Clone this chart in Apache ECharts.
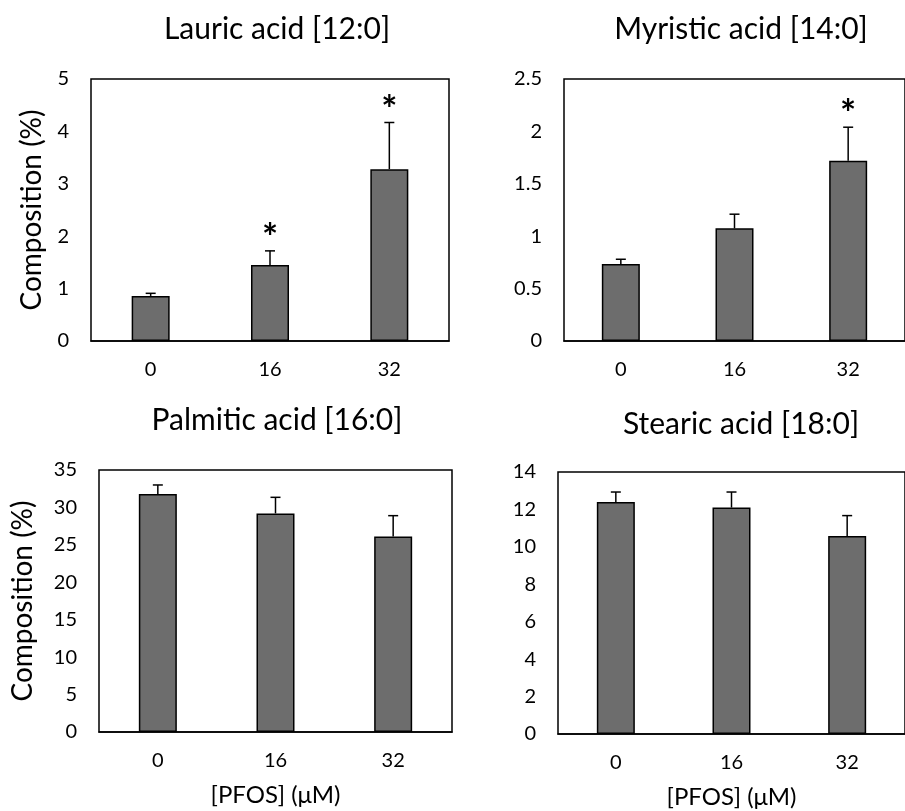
<!DOCTYPE html>
<html><head><meta charset="utf-8">
<script src="https://cdn.jsdelivr.net/npm/echarts@6/dist/echarts.min.js"></script>
<style>html,body{margin:0;padding:0;background:#fff}#c{width:905px;height:811px}</style>
</head><body><div id="c"></div>
<script>
const categories = ['0', '16', '32'];
const titles = ['Lauric acid [12:0]', 'Myristic acid [14:0]', 'Palmitic acid [16:0]', 'Stearic acid [18:0]'];
const lauricMean = [0.86, 1.45, 3.28];
const lauricErr = [0.05, 0.27, 0.89];
const lauricSig = [false, true, true];
const myristicMean = [0.735, 1.075, 1.72];
const myristicErr = [0.045, 0.135, 0.32];
const myristicSig = [false, false, true];
const palmiticMean = [31.8, 29.2, 26.1];
const palmiticErr = [1.2, 2.15, 2.8];
const palmiticSig = [false, false, false];
const stearicMean = [12.4, 12.1, 10.58];
const stearicErr = [0.53, 0.83, 1.09];
const stearicSig = [false, false, false];
const yMax = [5, 2.5, 35, 14];
const yInterval = [1, 0.5, 5, 2];
const yName = 'Composition (%)';
const xName = '[PFOS] (μM)';

const FONT = 'Lato';
const panels = [
  {mean: lauricMean, err: lauricErr, sig: lauricSig},
  {mean: myristicMean, err: myristicErr, sig: myristicSig},
  {mean: palmiticMean, err: palmiticErr, sig: palmiticSig},
  {mean: stearicMean, err: stearicErr, sig: stearicSig}
];
const gridPos = [
  {left: 91, top: 79, width: 358, height: 262},
  {left: 564, top: 79, width: 351, height: 262},
  {left: 99, top: 470, width: 353, height: 262},
  {left: 558, top: 472, width: 355, height: 262}
];
const titlePos = [
  {x: 272, y: 24}, {x: 736, y: 24}, {x: 272, y: 415}, {x: 736, y: 419}
];

const option = {
  animation: false,
  backgroundColor: '#fff',
  title: titles.map((t, i) => ({
    text: t, left: titlePos[i].x, top: titlePos[i].y,
    textAlign: 'center', textVerticalAlign: 'middle',
    textStyle: {fontFamily: FONT, fontSize: 30, fontWeight: 'normal', color: '#000'}
  })),
  grid: gridPos.map(g => Object.assign({show: true, borderColor: '#000', borderWidth: 1.5, backgroundColor: 'transparent'}, g)),
  xAxis: gridPos.map((g, i) => ({
    type: 'category', gridIndex: i, data: categories,
    axisLine: {lineStyle: {color: '#000', width: 1.5}},
    axisTick: {show: false},
    axisLabel: {margin: 19, fontFamily: FONT, fontSize: 20, color: '#000'},
    name: i >= 2 ? xName : '', nameLocation: 'middle', nameGap: 51,
    nameTextStyle: {fontFamily: FONT, fontSize: 24, color: '#000'}
  })),
  yAxis: gridPos.map((g, i) => ({
    type: 'value', gridIndex: i, min: 0, max: yMax[i], interval: yInterval[i],
    axisLine: {show: false}, axisTick: {show: false}, splitLine: {show: false},
    axisLabel: {margin: 22, fontFamily: FONT, fontSize: 20, color: '#000'},
    name: (i % 2 === 0) ? yName : '', nameLocation: 'middle', nameRotate: 90,
    nameGap: i === 0 ? 45 : 62,
    nameTextStyle: {fontFamily: FONT, fontSize: 28, color: '#000'}
  })),
  series: []
};

panels.forEach((p, i) => {
  option.series.push({
    type: 'bar', xAxisIndex: i, yAxisIndex: i, data: p.mean, barWidth: 38,
    itemStyle: {color: '#6d6d6d', borderColor: '#000', borderWidth: 1.5}
  });
  option.series.push({
    type: 'custom', xAxisIndex: i, yAxisIndex: i,
    data: p.mean.map((m, k) => [k, m, m + p.err[k], p.sig[k] ? 1 : 0]),
    renderItem: function (params, api) {
      const base = api.coord([api.value(0), api.value(1)]);
      const top = api.coord([api.value(0), api.value(2)]);
      const cap = 5;
      const children = [
        {type: 'line', shape: {x1: base[0], y1: base[1], x2: top[0], y2: top[1]}, style: {stroke: '#000', lineWidth: 1.5}},
        {type: 'line', shape: {x1: top[0] - cap, y1: top[1], x2: top[0] + cap, y2: top[1]}, style: {stroke: '#000', lineWidth: 1.5}}
      ];
      if (api.value(3)) {
        children.push({type: 'text', x: top[0], y: top[1] - 12,
          style: {text: '*', fontFamily: FONT, fontSize: 38, fontWeight: 'bold', fill: '#000', align: 'center', verticalAlign: 'middle'}});
      }
      return {type: 'group', children: children};
    },
    z: 5
  });
});

const chart = echarts.init(document.getElementById('c'));
chart.setOption(option);
</script></body></html>
